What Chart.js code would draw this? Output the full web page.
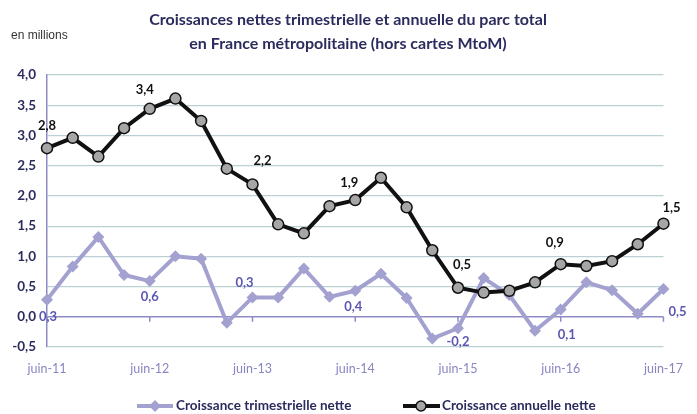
<!DOCTYPE html>
<html lang="fr">
<head>
<meta charset="utf-8">
<title>Croissances nettes du parc</title>
<script src="https://cdn.jsdelivr.net/npm/chart.js@4.4.1/dist/chart.umd.min.js"></script>
<style>
  html, body { margin: 0; padding: 0; background: #fff; }
  #wrap { position: relative; width: 697px; height: 414px; }
</style>
</head>
<body>
<div id="wrap"><canvas id="chart"></canvas></div>
<script>
// trimestres de juin-11 a juin-17
const quarters = [
  'juin-11', 'sept-11', 'déc-11', 'mars-12',
  'juin-12', 'sept-12', 'déc-12', 'mars-13',
  'juin-13', 'sept-13', 'déc-13', 'mars-14',
  'juin-14', 'sept-14', 'déc-14', 'mars-15',
  'juin-15', 'sept-15', 'déc-15', 'mars-16',
  'juin-16', 'sept-16', 'déc-16', 'mars-17',
  'juin-17'
];
const trimestrielle = [
  0.28, 0.83, 1.32, 0.69, 0.59, 1.00, 0.96, -0.10,
  0.32, 0.32, 0.80, 0.33, 0.43, 0.71, 0.31, -0.36,
  -0.19, 0.64, 0.36, -0.23, 0.12, 0.57, 0.44, 0.05,
  0.46
];
const annuelle = [
  2.79, 2.96, 2.65, 3.12, 3.44, 3.61, 3.24, 2.45,
  2.19, 1.53, 1.38, 1.83, 1.93, 2.30, 1.81, 1.10,
  0.48, 0.40, 0.43, 0.57, 0.87, 0.84, 0.92, 1.20,
  1.54
];
// etiquettes affichees sur les courbes (index, texte)
const labelsAnnuelle = [[0, '2,8'], [4, '3,4'], [8, '2,2'], [12, '1,9'], [16, '0,5'], [20, '0,9'], [24, '1,5']];
const labelsTrim = [[0, '0,3'], [4, '0,6'], [8, '0,3'], [12, '0,4'], [16, '-0,2'], [20, '0,1'], [24, '0,5']];
const yTicks = { min: -0.5, max: 4, step: 0.5 };

const NAVY = '#2b2b5e';
const LAVENDER = '#a3a1d0';
const LABEL_BLUE = '#5b57b3';
const GRID = '#bccfd2';
const AXIS = '#8d8bc6';
const FONT = 'Lato, "Open Sans", sans-serif';

// decalage des etiquettes par rapport au point
const offA = { 0: [0, -22], 4: [-5, -19], 8: [10, -24], 12: [-6, -17], 16: [4, -23], 20: [-6, -21], 24: [8, -16] };
const offT = { 0: [1, 17], 4: [0, 16], 8: [-8, -15], 12: [-2, 16], 16: [0, 14], 20: [6, 25], 24: [14, 23] };

const decor = {
  id: 'decor',
  beforeDatasetsDraw(chart) {
    const ctx = chart.ctx;
    const x = chart.scales.x, y = chart.scales.y;
    const y0 = y.getPixelForValue(0);
    ctx.save();
    ctx.strokeStyle = AXIS;
    ctx.lineWidth = 1.5;
    for (let i = 0; i < quarters.length; i += 4) {
      const px = x.getPixelForValue(i);
      ctx.beginPath();
      ctx.moveTo(px, y0);
      ctx.lineTo(px, y0 + 5);
      ctx.stroke();
    }
    ctx.restore();
  },
  afterDatasetsDraw(chart) {
    const ctx = chart.ctx;
    ctx.save();
    ctx.textAlign = 'center';
    ctx.textBaseline = 'middle';
    ctx.font = 'bold 13px ' + FONT;
    const mT = chart.getDatasetMeta(0), mA = chart.getDatasetMeta(1);
    ctx.fillStyle = LABEL_BLUE;
    labelsTrim.forEach(([i, t]) => {
      const p = mT.data[i];
      ctx.fillText(t, p.x + offT[i][0], p.y + offT[i][1]);
    });
    ctx.fillStyle = '#111';
    labelsAnnuelle.forEach(([i, t]) => {
      const p = mA.data[i];
      ctx.fillText(t, p.x + offA[i][0], p.y + offA[i][1]);
    });

    // titre
    ctx.fillStyle = NAVY;
    ctx.font = 'bold 16px ' + FONT;
    ctx.fillText('Croissances nettes trimestrielle et annuelle du parc total', 348, 20);
    ctx.fillText('en France métropolitaine (hors cartes MtoM)', 348, 44);
    ctx.textAlign = 'left';
    ctx.font = '12px "Liberation Sans", Arial, sans-serif';
    ctx.fillStyle = '#333';
    ctx.fillText('en millions', 11, 36);

    // legende
    const ly = 406;
    ctx.lineWidth = 4;
    ctx.strokeStyle = LAVENDER;
    ctx.beginPath(); ctx.moveTo(137, ly); ctx.lineTo(173, ly); ctx.stroke();
    ctx.fillStyle = LAVENDER;
    ctx.beginPath();
    ctx.moveTo(155, ly - 6); ctx.lineTo(161, ly); ctx.lineTo(155, ly + 6); ctx.lineTo(149, ly);
    ctx.closePath(); ctx.fill();
    ctx.strokeStyle = '#111';
    ctx.beginPath(); ctx.moveTo(403, ly); ctx.lineTo(440, ly); ctx.stroke();
    ctx.fillStyle = '#a6a6a6';
    ctx.lineWidth = 1.5;
    ctx.beginPath(); ctx.arc(421, ly, 5, 0, Math.PI * 2); ctx.fill(); ctx.stroke();
    ctx.fillStyle = NAVY;
    ctx.font = 'bold 13.5px ' + FONT;
    ctx.fillText('Croissance trimestrielle nette', 176, ly);
    ctx.fillText('Croissance annuelle nette', 442, ly);
    ctx.restore();
  }
};

new Chart(document.getElementById('chart'), {
  type: 'line',
  data: {
    labels: quarters,
    datasets: [
      {
        label: 'Croissance trimestrielle nette',
        data: trimestrielle,
        borderColor: LAVENDER,
        backgroundColor: LAVENDER,
        borderWidth: 4,
        pointStyle: 'rectRot',
        pointRadius: 6,
        pointBorderWidth: 0,
        tension: 0,
        order: 1
      },
      {
        label: 'Croissance annuelle nette',
        data: annuelle,
        borderColor: '#111',
        backgroundColor: '#a6a6a6',
        borderWidth: 4,
        pointStyle: 'circle',
        pointRadius: 5.5,
        pointBorderColor: '#111',
        pointBorderWidth: 1.5,
        tension: 0,
        order: 0
      }
    ]
  },
  options: {
    responsive: true,
    maintainAspectRatio: false,
    animation: false,
    layout: { padding: { top: 75, right: 25, left: 0, bottom: 0 } },
    plugins: {
      legend: { display: false },
      title: { display: false },
      tooltip: { enabled: false }
    },
    scales: {
      x: {
        offset: false,
        grid: { display: false, drawTicks: false },
        border: { display: false },
        ticks: {
          autoSkip: false,
          maxRotation: 0,
          padding: 14,
          color: '#8886c2',
          font: { family: FONT, size: 12.5 },
          callback: (v, i) => (i % 4 === 0 ? quarters[i] : '')
        },
        afterFit(s) { s.height = 67; }
      },
      y: {
        min: yTicks.min,
        max: yTicks.max,
        grid: {
          drawTicks: false,
          color: c => (c.tick && c.tick.value === 0 ? AXIS : GRID),
          lineWidth: c => (c.tick && c.tick.value === 0 ? 1.5 : 1.2)
        },
        border: { display: true, color: AXIS, width: 1.5 },
        ticks: {
          stepSize: yTicks.step,
          padding: 11,
          color: NAVY,
          font: { family: FONT, size: 13.5, weight: 'bold' },
          callback: v => v.toFixed(1).replace('.', ',')
        },
        afterFit(s) { s.width = 47; }
      }
    }
  },
  plugins: [decor]
});
</script>
</body>
</html>
